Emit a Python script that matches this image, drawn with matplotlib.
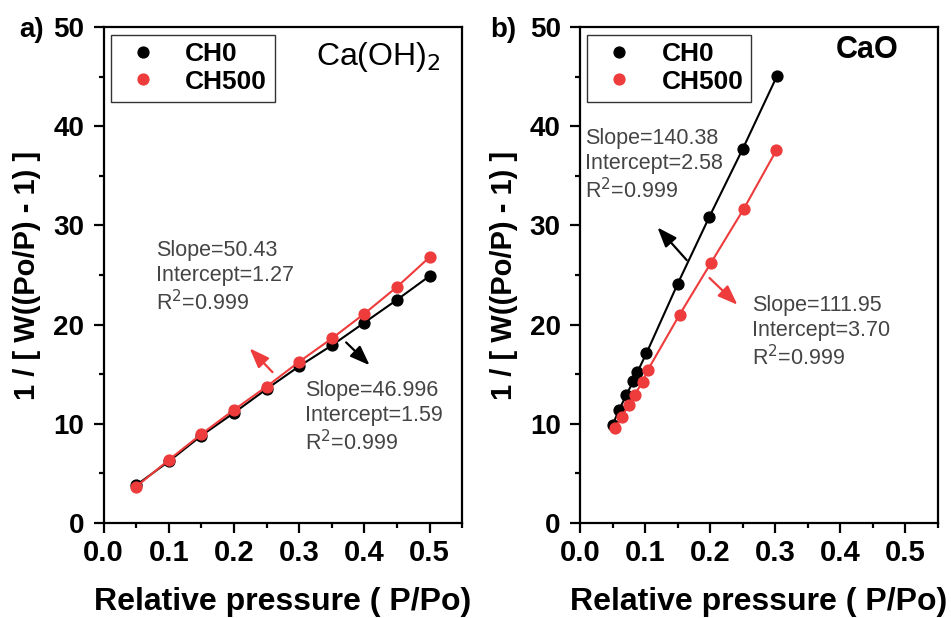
import matplotlib
matplotlib.use("Agg")
import matplotlib.pyplot as plt
from matplotlib.ticker import MultipleLocator
from matplotlib.lines import Line2D

plt.rcParams['font.family'] = ['Liberation Sans', 'DejaVu Sans']

# ---- data ----
# panel a: Ca(OH)2
xa = [0.05, 0.10, 0.15, 0.20, 0.25, 0.30, 0.35, 0.40, 0.45, 0.50]
a_ch0 = [3.8, 6.2, 8.8, 11.1, 13.5, 15.8, 17.9, 20.2, 22.5, 24.9]
a_ch500 = [3.65, 6.35, 8.95, 11.4, 13.75, 16.25, 18.6, 21.1, 23.8, 26.8]
# panel b: CaO
xb_ch0 = [0.050, 0.060, 0.071, 0.082, 0.088, 0.102, 0.150, 0.199, 0.250, 0.303]
b_ch0 = [9.9, 11.4, 12.9, 14.3, 15.2, 17.1, 24.1, 30.9, 37.7, 45.1]
xb_ch500 = [0.054, 0.064, 0.075, 0.084, 0.096, 0.104, 0.153, 0.201, 0.252, 0.302]
b_ch500 = [9.55, 10.7, 11.9, 12.9, 14.25, 15.4, 21.0, 26.2, 31.7, 37.6]

series_names = ['CH0', 'CH500']
xticks = [0.0, 0.1, 0.2, 0.3, 0.4, 0.5]
yticks = [0, 10, 20, 30, 40, 50]

BLACK = '#000000'
RED = '#ee3b3b'
GRAY = '#444444'

fig = plt.figure(figsize=(9.51, 6.18), dpi=100)
axA = fig.add_axes([0.109, 0.154, 0.377, 0.802])
axB = fig.add_axes([0.610, 0.154, 0.376, 0.802])


def style(ax):
    ax.set_xlim(0, 0.55)
    ax.set_ylim(0, 50)
    ax.set_xticks(xticks)
    ax.set_yticks(yticks)
    ax.xaxis.set_minor_locator(MultipleLocator(0.05))
    ax.yaxis.set_minor_locator(MultipleLocator(5))
    ax.tick_params(which='major', direction='out', length=7, width=1.6)
    ax.tick_params(which='minor', direction='out', length=3.5, width=1.6)
    ax.tick_params(axis='x', which='major', labelsize=21, pad=5)
    ax.tick_params(axis='y', which='major', labelsize=20, pad=7)
    ax.tick_params(top=False, right=False)
    for t in ax.get_xticklabels() + ax.get_yticklabels():
        t.set_fontweight('bold')
    for s in ax.spines.values():
        s.set_linewidth(1.6)
    ax.set_xlabel('Relative pressure ( P/Po)', fontsize=23, fontweight='bold')
    ax.xaxis.set_label_coords(0.5, -0.159)
    ax.xaxis.label.set_verticalalignment('center')
    ax.set_ylabel('1 / [ W((Po/P) - 1) ]', fontsize=21, fontweight='bold')
    ax.yaxis.set_label_coords(-0.213, 0.5)
    ax.yaxis.label.set_verticalalignment('center')
    handles = [Line2D([], [], ls='none', marker='o', ms=7.8, color=BLACK),
               Line2D([], [], ls='none', marker='o', ms=7.8, color=RED)]
    leg = ax.legend(handles, series_names, loc='upper left',
                    bbox_to_anchor=(0.0, 1.0), borderaxespad=0.28,
                    prop={'weight': 'bold', 'size': 19}, frameon=True,
                    fancybox=False, edgecolor='black', handletextpad=0.7,
                    borderpad=0.3, labelspacing=0.12, handlelength=1.8)
    leg.get_frame().set_linewidth(1.0)


def arrow(ax, tail, tip, color):
    ax.annotate('', xy=tip, xytext=tail,
                arrowprops=dict(arrowstyle='-|>,head_length=1.2,head_width=0.45',
                                color=color, lw=1.6, shrinkA=0, shrinkB=0))


TXT = dict(color=GRAY, fontsize=15.5, va='center', ha='left', linespacing=1.22)

style(axA)
axA.plot(xa, a_ch0, '-o', color=BLACK, ms=7.8, lw=1.5, zorder=3)
axA.plot(xa, a_ch500, '-o', color=RED, ms=7.8, lw=1.5, zorder=4)
axA.text(0.94, 0.94, 'Ca(OH)$_2$', transform=axA.transAxes, ha='right',
         va='center', fontsize=23)
axA.text(0.08, 24.7, 'Slope=50.43\nIntercept=1.27\nR$^2$=0.999', **TXT)
axA.text(0.309, 10.6, 'Slope=46.996\nIntercept=1.59\nR$^2$=0.999', **TXT)
arrow(axA, (0.259, 15.2), (0.224, 17.6), RED)
arrow(axA, (0.372, 18.2), (0.408, 15.9), BLACK)
fig.text(0.02, 0.951, 'a)', fontsize=20, fontweight='bold', va='center')

style(axB)
axB.plot(xb_ch0, b_ch0, '-o', color=BLACK, ms=7.8, lw=1.5, zorder=3)
axB.plot(xb_ch500, b_ch500, '-o', color=RED, ms=7.8, lw=1.5, zorder=4)
axB.text(0.891, 0.953, 'CaO', transform=axB.transAxes, ha='right',
         va='center', fontsize=22, fontweight='bold')
axB.text(0.008, 36.0, 'Slope=140.38\nIntercept=2.58\nR$^2$=0.999', **TXT)
axB.text(0.2645, 19.15, 'Slope=111.95\nIntercept=3.70\nR$^2$=0.999', **TXT)
arrow(axB, (0.164, 26.5), (0.119, 29.8), BLACK)
arrow(axB, (0.199, 24.7), (0.242, 22.0), RED)
fig.text(0.515, 0.951, 'b)', fontsize=20, fontweight='bold', va='center')

fig.savefig('out.png', dpi=100)
